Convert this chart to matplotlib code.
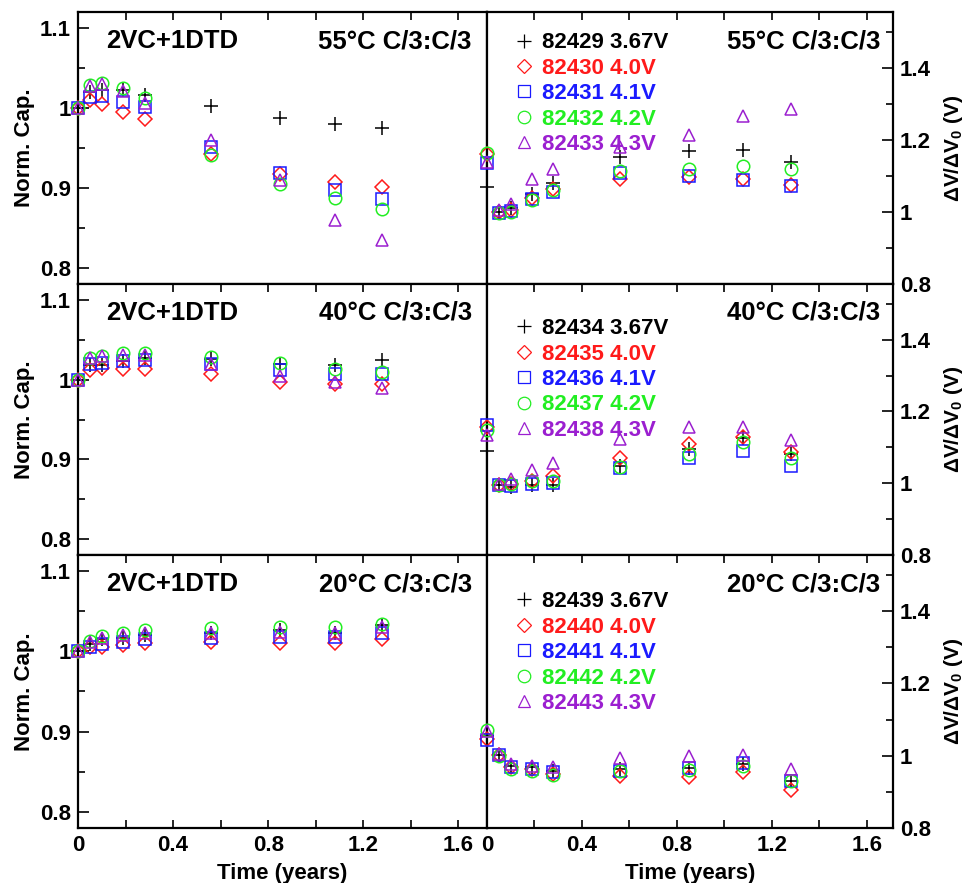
import numpy as np
import matplotlib
matplotlib.use("Agg")
import matplotlib.pyplot as plt
from matplotlib.ticker import FixedLocator, FixedFormatter

plt.rcParams['font.family'] = ['Liberation Sans', 'DejaVu Sans']
plt.rcParams['font.weight'] = 'bold'
plt.rcParams['mathtext.fontset'] = 'custom'
plt.rcParams['mathtext.rm'] = 'Liberation Sans'
plt.rcParams['mathtext.bf'] = 'Liberation Sans:bold'

# time (years) of each check-up
t = [0, 0.05, 0.10, 0.19, 0.28, 0.56, 0.85, 1.08, 1.28]

volts = ['3.67V', '4.0V', '4.1V', '4.2V', '4.3V']
colors = ['black', '#ff1a1a', '#1a1aff', '#22ee22', '#9b1fd0']
markers = ['+', 'D', 's', 'o', '^']
msizes = [10, 7, 8, 9, 8]

temps = ['55°C', '40°C', '20°C']
cells = [['82429', '82430', '82431', '82432', '82433'],
         ['82434', '82435', '82436', '82437', '82438'],
         ['82439', '82440', '82441', '82442', '82443']]

# normalised capacity, one row per voltage
cap_55 = [[1.0, 1.020, 1.022, 1.023, 1.016, 1.003, 0.987, 0.980, 0.975],
          [1.0, 1.010, 1.005, 0.995, 0.986, 0.942, 0.917, 0.908, 0.901],
          [1.0, 1.014, 1.015, 1.007, 1.001, 0.951, 0.919, 0.898, 0.886],
          [1.0, 1.029, 1.031, 1.025, 1.013, 0.941, 0.905, 0.887, 0.874],
          [1.0, 1.028, 1.030, 1.021, 1.006, 0.960, 0.910, 0.860, 0.835]]
cap_40 = [[1.0, 1.018, 1.019, 1.023, 1.027, 1.026, 1.020, 1.018, 1.025],
          [1.0, 1.012, 1.015, 1.013, 1.013, 1.007, 0.997, 0.994, 0.994],
          [1.0, 1.020, 1.021, 1.023, 1.025, 1.020, 1.012, 1.007, 1.007],
          [1.0, 1.027, 1.030, 1.033, 1.033, 1.029, 1.021, 1.013, 1.009],
          [1.0, 1.027, 1.030, 1.031, 1.031, 1.020, 1.004, 0.997, 0.989]]
cap_20 = [[1.0, 1.009, 1.016, 1.017, 1.020, 1.023, 1.026, 1.023, 1.033],
          [1.0, 1.005, 1.006, 1.008, 1.011, 1.012, 1.010, 1.010, 1.016],
          [1.0, 1.006, 1.009, 1.012, 1.015, 1.017, 1.018, 1.018, 1.023],
          [1.0, 1.013, 1.019, 1.023, 1.026, 1.029, 1.030, 1.030, 1.034],
          [1.0, 1.012, 1.017, 1.020, 1.023, 1.023, 1.024, 1.023, 1.030]]

# dV/dV0 (V), one row per voltage
dv_55 = [[1.069, 1.000, 1.010, 1.050, 1.080, 1.152, 1.169, 1.171, 1.138],
         [1.160, 1.000, 1.005, 1.040, 1.065, 1.092, 1.097, 1.092, 1.076],
         [1.135, 0.998, 1.003, 1.037, 1.055, 1.108, 1.100, 1.090, 1.071],
         [1.163, 0.998, 1.000, 1.032, 1.060, 1.115, 1.120, 1.127, 1.120],
         [1.138, 1.005, 1.023, 1.092, 1.118, 1.180, 1.214, 1.267, 1.286]]
dv_40 = [[1.089, 0.995, 0.989, 0.995, 0.995, 1.049, 1.096, 1.126, 1.082],
         [1.156, 0.996, 0.998, 1.007, 1.020, 1.070, 1.110, 1.128, 1.087],
         [1.163, 0.995, 0.993, 0.998, 1.001, 1.042, 1.070, 1.091, 1.047],
         [1.147, 0.995, 0.998, 1.005, 1.005, 1.045, 1.082, 1.114, 1.070],
         [1.133, 0.998, 1.012, 1.038, 1.056, 1.124, 1.156, 1.156, 1.121]]
dv_20 = [[1.055, 1.003, 0.972, 0.970, 0.959, 0.963, 0.966, 0.977, 0.931],
         [1.046, 1.003, 0.968, 0.963, 0.949, 0.945, 0.940, 0.954, 0.905],
         [1.043, 1.003, 0.970, 0.963, 0.954, 0.959, 0.966, 0.979, 0.931],
         [1.071, 1.000, 0.963, 0.959, 0.947, 0.957, 0.960, 0.972, 0.931],
         [1.069, 1.006, 0.977, 0.972, 0.970, 0.994, 1.000, 1.003, 0.963]]

caps = [cap_55, cap_40, cap_20]
dvs = [dv_55, dv_40, dv_20]

fig = plt.figure(figsize=(9.68, 8.83), dpi=100)

W, H = 968, 883
xl0, xl1, xr1 = 78, 487, 893
rows_px = [(12, 284), (284, 555), (555, 828)]
leg_y = [0.958, 0.907, 0.9]


def style_x(ax, bottom):
    ax.xaxis.set_major_locator(FixedLocator([0, 0.4, 0.8, 1.2, 1.6]))
    ax.xaxis.set_minor_locator(FixedLocator([0.2, 0.6, 1.0, 1.4]))
    ax.tick_params(axis='x', which='both', direction='in', top=True,
                   bottom=bottom, labelbottom=bottom, labelsize=16,
                   length=6, width=1.2, pad=5)
    if bottom:
        ax.set_xticklabels(['0', '0.4', '0.8', '1.2', '1.6'])
        ax.set_xlabel('Time (years)', fontsize=16, fontweight='bold', labelpad=5)


for r in range(3):
    top, bot = rows_px[r]
    y0 = 1 - bot / H
    h = (bot - top) / H
    axl = fig.add_axes([xl0 / W, y0, (xl1 - xl0) / W, h])
    axr = fig.add_axes([xl1 / W, y0, (xr1 - xl1) / W, h])
    last = r == 2

    # capacity panel
    for i in range(5):
        axl.plot(t, caps[r][i], linestyle='none', marker=markers[i],
                 ms=msizes[i], mfc='none', mec=colors[i], mew=1.1,
                 clip_on=False, zorder=3)
    axl.set_xlim(0, 1.72)
    axl.set_ylim(0.78, 1.12)
    axl.yaxis.set_major_locator(FixedLocator([0.8, 0.9, 1.0, 1.1]))
    axl.yaxis.set_major_formatter(FixedFormatter(['0.8', '0.9', '1', '1.1']))
    axl.yaxis.set_minor_locator(FixedLocator([0.85, 0.95, 1.05]))
    axl.tick_params(axis='y', which='major', direction='in', length=8,
                    width=1.2, labelsize=16, right=False, pad=5)
    axl.tick_params(axis='y', which='minor', direction='in', length=5,
                    width=1.2, right=False)
    style_x(axl, last)
    axl.set_ylabel('Norm. Cap.', fontsize=16, fontweight='bold', va='center')
    axl.yaxis.set_label_coords(-0.13, 0.5)
    axl.text(0.068, 0.893, '2VC+1DTD', transform=axl.transAxes,
             fontsize=18.5, fontweight='bold', va='center', ha='left')
    axl.text(0.963, 0.893, temps[r] + ' C/3:C/3', transform=axl.transAxes,
             fontsize=18.5, fontweight='bold', va='center', ha='right')

    # dV/dV0 panel
    handles = []
    for i in range(5):
        ln, = axr.plot(t, dvs[r][i], linestyle='none', marker=markers[i],
                       ms=msizes[i], mfc='none', mec=colors[i], color=colors[i],
                       mew=1.1, clip_on=False, zorder=3,
                       label=cells[r][i] + ' ' + volts[i])
        handles.append(ln)
    axr.set_xlim(0, 1.71)
    axr.set_ylim(0.8, 1.555)
    axr.yaxis.tick_right()
    axr.yaxis.set_major_locator(FixedLocator([0.8, 1.0, 1.2, 1.4]))
    axr.yaxis.set_major_formatter(FixedFormatter(['0.8', '1', '1.2', '1.4']))
    axr.yaxis.set_minor_locator(FixedLocator([0.9, 1.1, 1.3, 1.5]))
    axr.tick_params(axis='y', which='major', direction='in', length=8,
                    width=1.2, labelsize=16, left=False, right=True, pad=5)
    axr.tick_params(axis='y', which='minor', direction='in', length=5,
                    width=1.2, left=False, right=True)
    style_x(axr, last)
    axr.yaxis.set_label_position('right')
    axr.set_ylabel(r'ΔV/ΔV$_\mathbf{0}$ (V)', fontsize=15, fontweight='bold',
                   va='center', rotation=90)
    axr.yaxis.set_label_coords(1.15, 0.5)
    axr.text(0.968, 0.893, temps[r] + ' C/3:C/3', transform=axr.transAxes,
             fontsize=18.5, fontweight='bold', va='center', ha='right')
    leg = axr.legend(handles=handles, loc='upper left',
                     bbox_to_anchor=(0.045, leg_y[r]), frameon=False,
                     handlelength=0.9, handletextpad=0.35, labelspacing=0.2,
                     borderaxespad=0, labelcolor='linecolor',
                     prop={'size': 16, 'weight': 'bold'})
    for lh in leg.legend_handles:
        lh.set_markeredgewidth(0.9)

    for ax in (axl, axr):
        for sp in ax.spines.values():
            sp.set_linewidth(1.6)

fig.savefig('out.png', dpi=100)
